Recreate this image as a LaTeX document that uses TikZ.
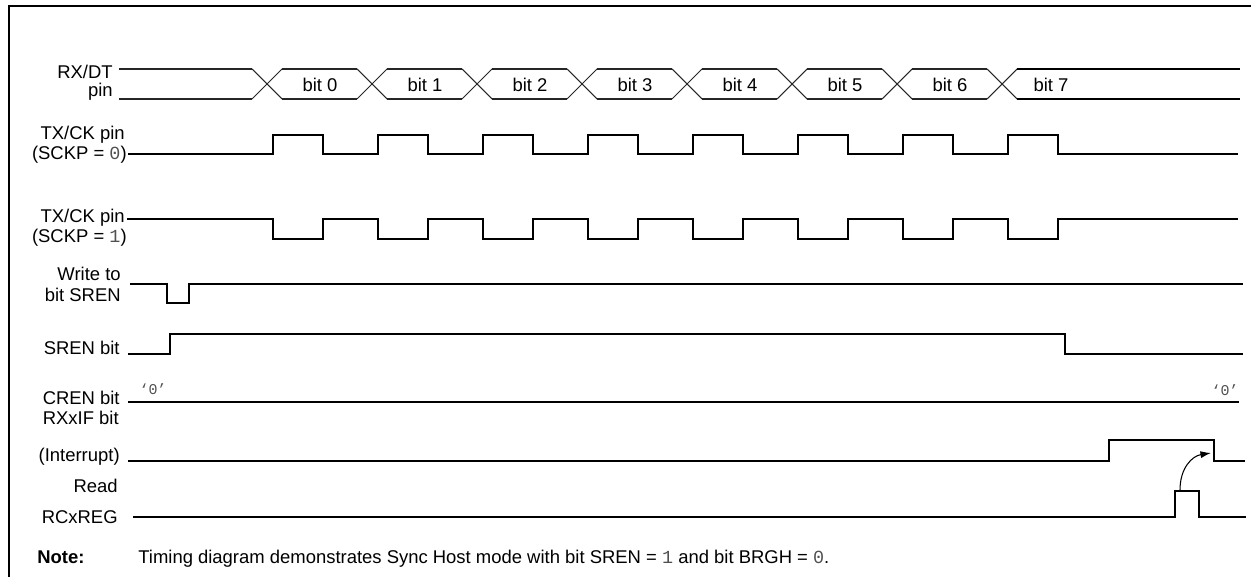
\documentclass[tikz,border=0pt]{standalone}
\usepackage{fontspec}
\setmainfont{Liberation Sans}
\newfontfamily\cournew{Liberation Mono}
\usetikzlibrary{arrows.meta}
\definecolor{digit}{RGB}{80,80,80}
\newcommand{\dg}[1]{{\cournew\color{digit}#1}}
\begin{document}
\begin{tikzpicture}[x=0.02cm,y=-0.02cm,
  sig/.style={line width=1.1pt, line join=miter},
  bus/.style={line width=0.6pt, black!85},
  frame/.style={line width=1.3pt},
  lbl/.style={inner sep=0, anchor=base east, font=\fontsize{10.5}{12}\selectfont},
  txt/.style={inner sep=0, anchor=base west, font=\fontsize{10.5}{12}\selectfont},
  bitlbl/.style={inner sep=0, anchor=base, font=\fontsize{10.5}{12}\selectfont},
  zero/.style={inner sep=0, font=\fontsize{8.5}{9}\cournew, text=digit},
  irq/.style={line width=0.6pt, -{Latex[length=6pt,width=4pt]}}]
\useasboundingbox (0,0) rectangle (1251,577);
% frame
\draw[frame] (8.7,578) -- (8.7,6) -- (1252,6);
% labels
\node[lbl] (l1a) at (113,79) {RX/DT};
\node[lbl] (l1b) at (113,97) {pin};
\node[lbl] (l2a) at (125,140) {TX/CK pin};
\node[lbl] (l2b) at (127,160) {(SCKP = \dg{0})};
\node[lbl] (l3a) at (125,223) {TX/CK pin};
\node[lbl] (l3b) at (127,243) {(SCKP = \dg{1})};
\node[lbl] (l4a) at (121,281) {Write to};
\node[lbl] (l4b) at (121,302) {bit SREN};
\node[lbl] (l5) at (120,355) {SREN bit};
\node[lbl] (l6) at (120,405) {CREN bit};
\node[lbl] (l7a) at (119,425) {RXxIF bit};
\node[lbl] (l7b) at (120,461) {(Interrupt)};
\node[lbl] (l8a) at (118,492) {Read};
\node[lbl] (l8b) at (118,523) {RCxREG};
% RX/DT bus
\draw[bus] (119,69) -- (252,69);
\draw[bus] (119,99) -- (252,99);
\foreach \k in {0,...,7}{
  \draw[bus] ({252+105*\k},69) -- ({282+105*\k},99);
  \draw[bus] ({252+105*\k},99) -- ({282+105*\k},69);
}
\foreach \k in {0,...,6}{
  \draw[bus] ({282+105*\k},69) -- ({357+105*\k},69);
  \draw[bus] ({282+105*\k},99) -- ({357+105*\k},99);
  \node[bitlbl] (b\k) at ({320+105*\k},92) {bit \k};
}
\draw[sig] (1017,69) -- (1240,69);
\draw[sig] (1017,99) -- (1240,99);
\node[bitlbl] (b7) at (1051,92) {bit 7};
% TX/CK SCKP=0
\draw[sig] (128,154) foreach \k in {0,...,7}{
  -- ({273+105*\k},154) -- ({273+105*\k},135) -- ({323+105*\k},135) -- ({323+105*\k},154)} -- (1238,154);
% TX/CK SCKP=1
\draw[sig] (127,219) foreach \k in {0,...,7}{
  -- ({273+105*\k},219) -- ({273+105*\k},239) -- ({323+105*\k},239) -- ({323+105*\k},219)} -- (1238,219);
% Write to bit SREN
\draw[sig] (130,284) -- (167,284) -- (167,303) -- (189,303) -- (189,284) -- (1243,284);
% SREN bit
\draw[sig] (128,354) -- (170,354) -- (170,334) -- (1065,334) -- (1065,354) -- (1243,354);
% CREN bit
\draw[sig] (128,402) -- (1239,402);
\node[zero] (z1) at (153,389) {‘0’};
\node[zero] (z2) at (1225,390) {‘0’};
% RXxIF
\draw[sig] (128,461) -- (1109,461) -- (1109,440) -- (1214,440) -- (1214,461) -- (1245,461);
% Read RCxREG
\draw[sig] (133,517) -- (1175,517) -- (1175,491) -- (1199,491) -- (1199,517) -- (1246,517);
\coordinate (rdtop) at (1180,490);
\coordinate (iftip) at (1211,453);
\draw[irq] (rdtop) .. controls (1180,468) and (1192,456) .. (iftip);
% note
\node[txt, font=\fontsize{10.5}{12}\selectfont\bfseries] (note) at (37,563) {Note:};
\node[txt] (notetxt) at (138,563) {Timing diagram demonstrates Sync Host mode with bit SREN = \dg{1} and bit BRGH = \dg{0}.};
\end{tikzpicture}
\end{document}
